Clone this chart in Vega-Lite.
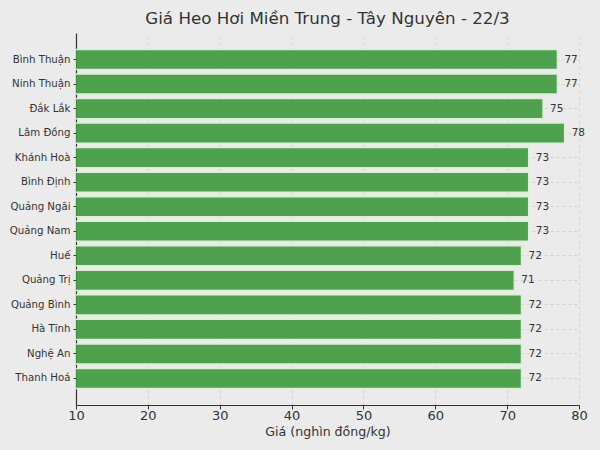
{
  "$schema": "https://vega.github.io/schema/vega-lite/v6.json",
  "width": 503,
  "height": 372,
  "autosize": {"type": "none"},
  "padding": {"left": 76, "top": 33, "right": 21, "bottom": 45},
  "background": "#ebebeb",
  "title": {
    "text": "Giá Heo Hơi Miền Trung - Tây Nguyên - 22/3",
    "font": "DejaVu Sans",
    "fontSize": 16.7,
    "fontWeight": "normal",
    "color": "#333333",
    "offset": 5
  },
  "config": {
    "view": {"stroke": null},
    "font": "DejaVu Sans"
  },
  "data": {
    "values": [
      {"tinh": "Bình Thuận", "gia": 77},
      {"tinh": "Ninh Thuận", "gia": 77},
      {"tinh": "Đắk Lắk", "gia": 75},
      {"tinh": "Lâm Đồng", "gia": 78},
      {"tinh": "Khánh Hoà", "gia": 73},
      {"tinh": "Bình Định", "gia": 73},
      {"tinh": "Quảng Ngãi", "gia": 73},
      {"tinh": "Quảng Nam", "gia": 73},
      {"tinh": "Huế", "gia": 72},
      {"tinh": "Quảng Trị", "gia": 71},
      {"tinh": "Quảng Bình", "gia": 72},
      {"tinh": "Hà Tĩnh", "gia": 72},
      {"tinh": "Nghệ An", "gia": 72},
      {"tinh": "Thanh Hoá", "gia": 72}
    ]
  },
  "encoding": {
    "y": {
      "field": "tinh",
      "type": "nominal",
      "sort": null,
      "scale": {"paddingInner": 0.18, "paddingOuter": 0.67},
      "axis": {
        "title": null,
        "labelFontSize": 10.2,
        "labelColor": "#333333",
        "labelPadding": 3,
        "domainColor": "#333333",
        "domainWidth": 1.2,
        "tickColor": "#333333",
        "tickSize": 3,
        "grid": true,
        "gridColor": "#cccccc",
        "gridDash": [3, 3],
        "gridWidth": 0.8
      }
    },
    "x": {
      "field": "gia",
      "type": "quantitative",
      "scale": {"domain": [10, 80], "nice": false, "zero": false},
      "axis": {
        "title": "Giá (nghìn đồng/kg)",
        "titleFontSize": 12.6,
        "titleFontWeight": "normal",
        "titleColor": "#333333",
        "titlePadding": 3,
        "labelFontSize": 13,
        "labelColor": "#333333",
        "labelFlush": false,
        "values": [10, 20, 30, 40, 50, 60, 70, 80],
        "domainColor": "#333333",
        "domainWidth": 1.2,
        "tickColor": "#333333",
        "tickSize": 4,
        "labelPadding": 0,
        "grid": true,
        "gridColor": "#cccccc",
        "gridDash": [3, 3],
        "gridWidth": 0.8
      }
    }
  },
  "layer": [
    {
      "mark": {
        "type": "bar",
        "clip": true,
        "fill": "#3d9a3d",
        "fillOpacity": 0.9,
        "stroke": "#dcefd6",
        "strokeWidth": 1.5
      }
    },
    {
      "mark": {
        "type": "text",
        "align": "left",
        "dx": 7,
        "fontSize": 10.5,
        "color": "#333333"
      },
      "encoding": {
        "text": {"field": "gia", "type": "quantitative"}
      }
    }
  ]
}
